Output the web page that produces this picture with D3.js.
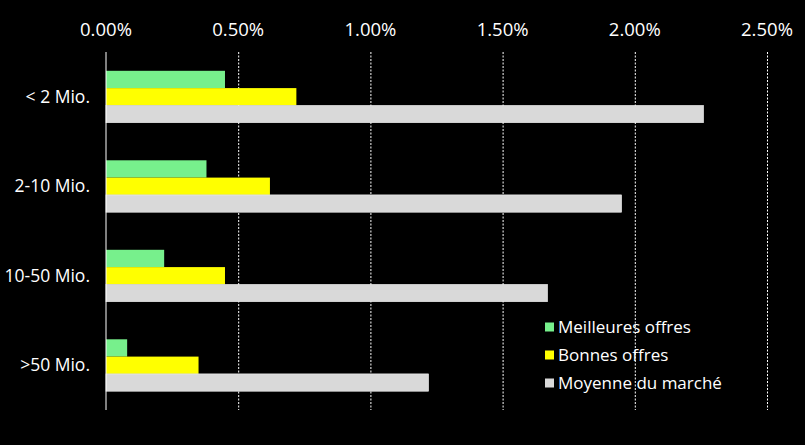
<!DOCTYPE html>
<html>
<head>
<meta charset="utf-8">
<script src="https://cdn.jsdelivr.net/npm/d3@7"></script>
<style>
  body { margin: 0; background: #000; }
  text { font-family: "Open Sans", "DejaVu Sans", sans-serif; fill: #fff; }
</style>
</head>
<body>
<svg id="chart"></svg>
<script>
// categories and series (values in %)
var categories = ["< 2 Mio.", "2-10 Mio.", "10-50 Mio.", ">50 Mio."];
var seriesNames = ["Meilleures offres", "Bonnes offres", "Moyenne du marché"];
var meilleures = [0.45, 0.38, 0.22, 0.08];
var bonnes = [0.72, 0.62, 0.45, 0.35];
var moyenne = [2.26, 1.95, 1.67, 1.22];
var ticks = [0, 0.5, 1.0, 1.5, 2.0, 2.5];
var colors = ["#77f08c", "#ffff00", "#d9d9d9"];

var svgW = 805, svgH = 445;
var plotLeft = 106, plotRight = 767, plotTop = 52, plotBottom = 410;

var svg = d3.select("#chart").attr("width", svgW).attr("height", svgH);
svg.append("rect").attr("width", svgW).attr("height", svgH).attr("fill", "#000");

var xScale = d3.scaleLinear().domain([0, 2.5]).range([plotLeft, plotRight]);
var yScale = d3.scaleBand().domain(categories).range([plotTop, plotBottom])
  .paddingInner(0.42).paddingOuter(0.21);
var ySub = d3.scaleBand().domain(seriesNames).range([0, yScale.bandwidth()]);

var allSeries = [meilleures, bonnes, moyenne];

// gridlines
svg.append("g").selectAll("line")
  .data(ticks.slice(1))
  .enter().append("line")
  .attr("x1", function(d){ return xScale(d) + 0.5; })
  .attr("x2", function(d){ return xScale(d) + 0.5; })
  .attr("y1", plotTop).attr("y2", plotBottom)
  .attr("stroke", "#fff")
  .attr("stroke-width", 1)
  .attr("stroke-dasharray", "2,1.5");

// bars
var groups = svg.append("g").selectAll("g")
  .data(categories)
  .enter().append("g")
  .attr("transform", function(d){ return "translate(0," + yScale(d) + ")"; });

groups.selectAll("rect")
  .data(function(d, i){
    return allSeries.map(function(s, j){ return { name: seriesNames[j], value: s[i], idx: j }; });
  })
  .enter().append("rect")
  .attr("x", xScale(0))
  .attr("y", function(d){ return ySub(d.name); })
  .attr("width", function(d){ return xScale(d.value) - xScale(0); })
  .attr("height", ySub.bandwidth())
  .attr("fill", function(d){ return colors[d.idx]; })
  .attr("stroke", function(d){ return d.idx == 2 ? "#f2f2f2" : "none"; })
  .attr("stroke-width", 0.6);

// axis line at 0
svg.append("line")
  .attr("x1", xScale(0)).attr("x2", xScale(0))
  .attr("y1", plotTop).attr("y2", plotBottom)
  .attr("stroke", "#fff").attr("stroke-width", 1);

// x tick labels
svg.append("g").selectAll("text")
  .data(ticks)
  .enter().append("text")
  .attr("x", function(d){ return xScale(d); })
  .attr("y", 36)
  .attr("text-anchor", "middle")
  .style("font-size", "18.5px")
  .text(function(d){ return d3.format(".2f")(d) + "%"; });

// category labels
svg.append("g").selectAll("text")
  .data(categories)
  .enter().append("text")
  .attr("x", 90)
  .attr("y", function(d){ return yScale(d) + yScale.bandwidth() / 2; })
  .attr("dy", "0.35em")
  .attr("text-anchor", "end")
  .style("font-size", "17.5px")
  .text(function(d){ return d; });

// legend
var legend = svg.append("g").selectAll("g")
  .data(seriesNames)
  .enter().append("g")
  .attr("transform", function(d, i){ return "translate(545," + (327 + i * 28) + ")"; });

legend.append("rect")
  .attr("x", 0).attr("y", -4.5)
  .attr("width", 9).attr("height", 9)
  .attr("fill", function(d, i){ return colors[i]; });

legend.append("text")
  .attr("x", 13).attr("y", 0)
  .attr("dy", "0.35em")
  .style("font-size", "17px")
  .text(function(d){ return d; });
</script>
</body>
</html>
